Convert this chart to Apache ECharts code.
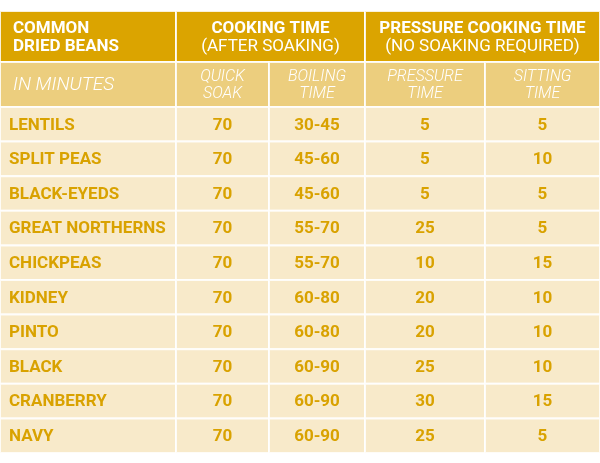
<!DOCTYPE html>
<html>
<head>
<meta charset="utf-8">
<script src="https://cdn.jsdelivr.net/npm/echarts@6/dist/echarts.min.js"></script>
<style>
  html, body { margin: 0; padding: 0; background: #fff; }
  #plot { width: 600px; height: 463px; }
</style>
</head>
<body>
<div id="plot"></div>
<script>
// 表格数据
var beans = ['LENTILS', 'SPLIT PEAS', 'BLACK-EYEDS', 'GREAT NORTHERNS', 'CHICKPEAS',
  'KIDNEY', 'PINTO', 'BLACK', 'CRANBERRY', 'NAVY'];
var quickSoak = [70, 70, 70, 70, 70, 70, 70, 70, 70, 70];
var boilingTime = ['30-45', '45-60', '45-60', '55-70', '55-70', '60-80', '60-80', '60-90', '60-90', '60-90'];
var pressureTime = [5, 5, 5, 25, 10, 20, 20, 25, 30, 25];
var sittingTime = [5, 10, 5, 5, 15, 10, 10, 10, 15, 5];

var groupTitles = [['COMMON', 'DRIED BEANS'], ['COOKING TIME', '(AFTER SOAKING)'], ['PRESSURE COOKING TIME', '(NO SOAKING REQUIRED)']];
var subTitles = ['IN MINUTES', 'QUICK\nSOAK', 'BOILING\nTIME', 'PRESSURE\nTIME', 'SITTING\nTIME'];

// 布局
var colEdges = [0, 176, 269, 365, 485, 600];
var headTop = 11, headMid = 62, bodyTop = 107, bodyBottom = 453;
var rowH = (bodyBottom - bodyTop) / beans.length;

var C_DARK = '#DBA400', C_SUB = '#ECCE7E', C_BODY = '#F8EACA', C_TEXT = '#D9A200';
var FONT = 'Roboto, "Liberation Sans", sans-serif';

// 构造单元格
var cells = [];
function cell(c0, c1, r0, r1, kind, text) {
  cells.push({ value: [colEdges[c0], colEdges[c1], r0, r1], kind: kind, text: text });
}
cell(0, 1, headTop, headMid, 'g0', groupTitles[0]);
cell(1, 3, headTop, headMid, 'g', groupTitles[1]);
cell(3, 5, headTop, headMid, 'g', groupTitles[2]);
subTitles.forEach(function (t, i) {
  cell(i, i + 1, headMid, bodyTop, i === 0 ? 's0' : 's', t);
});
beans.forEach(function (b, i) {
  var r0 = bodyTop + i * rowH, r1 = r0 + rowH;
  var vals = [b, quickSoak[i], boilingTime[i], pressureTime[i], sittingTime[i]];
  vals.forEach(function (v, j) {
    cell(j, j + 1, r0, r1, j === 0 ? 'b0' : 'b', String(v));
  });
});

var myChart = echarts.init(document.getElementById('plot'));

function renderItem(params, api) {
  var d = cells[params.dataIndex];
  var p0 = api.coord([api.value(0), api.value(2)]);
  var p1 = api.coord([api.value(1), api.value(3)]);
  var x = p0[0], y = p0[1], w = p1[0] - p0[0], h = p1[1] - p0[1];
  var k = d.kind;
  var fill = k[0] === 'g' ? C_DARK : (k[0] === 's' ? C_SUB : C_BODY);
  var left = k.length === 2;
  var textEl;
  if (k[0] === 'g') {
    textEl = {
      type: 'text',
      style: {
        text: '{b|' + d.text[0] + '}\n{' + (left ? 'b' : 'r') + '|' + d.text[1] + '}',
        x: left ? x + 13 : x + w / 2, y: y + h / 2 + 1,
        align: left ? 'left' : 'center', verticalAlign: 'middle',
        fill: '#fff',
        rich: {
          b: { fontFamily: FONT, fontSize: 17, fontWeight: 'bold', lineHeight: 18, fill: '#fff' },
          r: { fontFamily: FONT, fontSize: 17, fontWeight: 'normal', lineHeight: 18, fill: '#fff' }
        }
      }
    };
  } else if (k[0] === 's') {
    textEl = {
      type: 'text',
      style: {
        text: d.text,
        x: left ? x + 13 : x + w / 2, y: y + h / 2 + 1,
        align: left ? 'left' : 'center', verticalAlign: 'middle',
        fontFamily: FONT, fontSize: left ? 19 : 16, fontStyle: 'italic', fontWeight: 300,
        lineHeight: 17, fill: '#fff'
      }
    };
  } else {
    textEl = {
      type: 'text',
      style: {
        text: d.text,
        x: left ? x + 9 : x + w / 2, y: y + h / 2 + 1,
        align: left ? 'left' : 'center', verticalAlign: 'middle',
        fontFamily: FONT, fontSize: 17, fontWeight: 'bold', fill: C_TEXT
      }
    };
  }
  return {
    type: 'group',
    children: [
      { type: 'rect', shape: { x: x, y: y, width: w, height: h },
        style: { fill: fill, stroke: 'rgba(255,255,255,0.85)', lineWidth: 2 } },
      textEl
    ]
  };
}

var option = {
  animation: false,
  grid: { left: 0, right: 0, top: 0, bottom: 0 },
  xAxis: { type: 'value', min: 0, max: 600, show: false },
  yAxis: { type: 'value', min: 0, max: 463, inverse: true, show: false },
  series: [{
    type: 'custom',
    renderItem: renderItem,
    data: cells.map(function (c) { return c.value; })
  }]
};

myChart.setOption(option);
</script>
</body>
</html>
